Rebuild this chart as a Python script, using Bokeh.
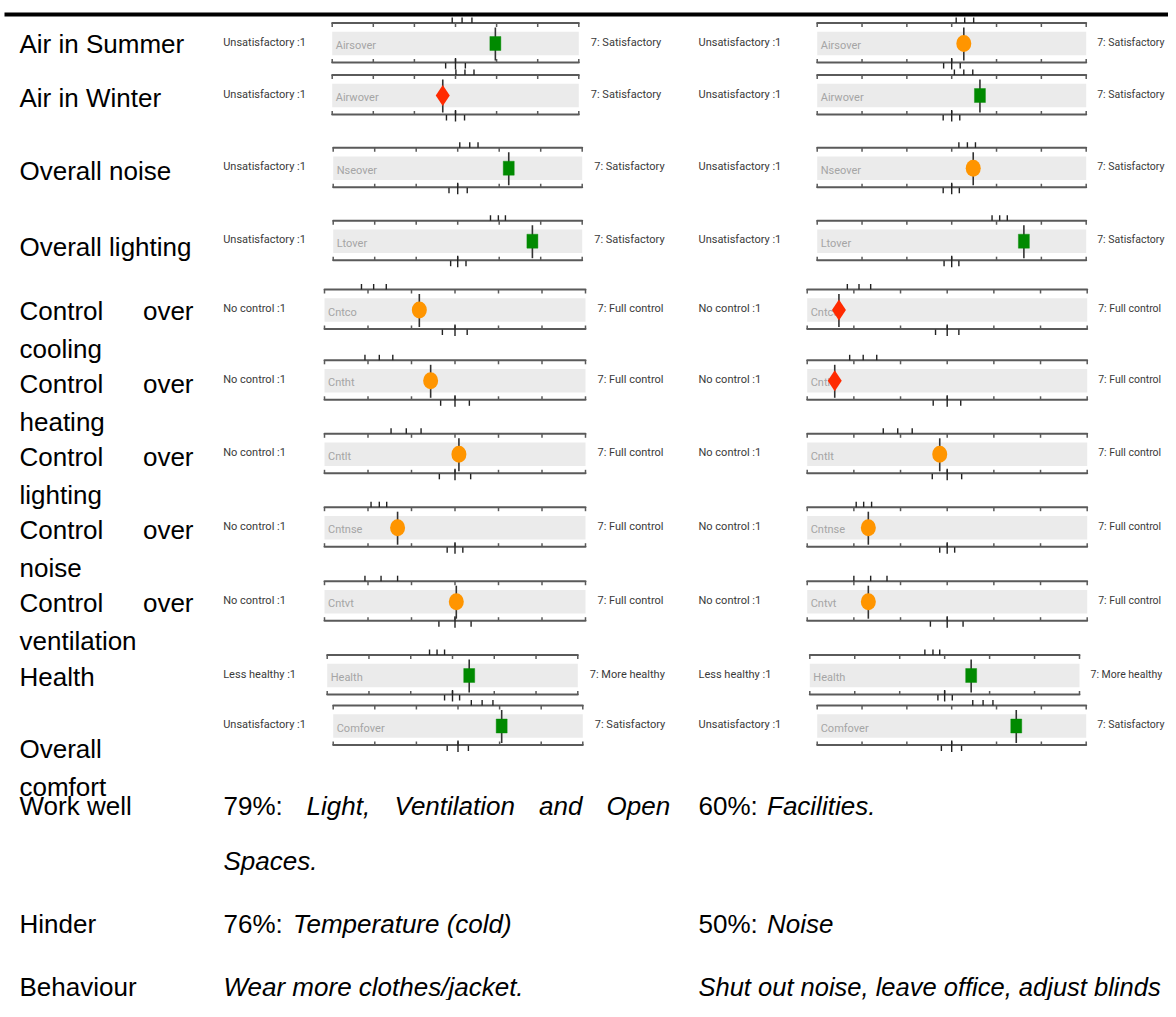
from bokeh.plotting import figure
from bokeh.models import Range1d, BoxAnnotation
from bokeh.embed import file_html
from bokeh.resources import INLINE
from bokeh.core.properties import value

# ---------------- data ----------------
ROW_LABELS = ["Air in Summer", "Air in Winter", "Overall noise", "Overall lighting",
              "Control over cooling", "Control over heating", "Control over lighting",
              "Control over noise", "Control over ventilation", "Health", "Overall comfort"]
SCALE_VARS = ["Airsover", "Airwover", "Nseover", "Ltover", "Cntco", "Cntht", "Cntlt",
              "Cntnse", "Cntvt", "Health", "Comfover"]
LOW_LABELS = ["Unsatisfactory :1"] * 4 + ["No control :1"] * 5 + ["Less healthy :1", "Unsatisfactory :1"]
HIGH_LABELS = ["7: Satisfactory"] * 4 + ["7: Full control"] * 5 + ["7: More healthy", "7: Satisfactory"]
SCALE_TICKS = [1, 2, 3, 4, 5, 6, 7]

# building A (left column)
A_MEAN = [4.97, 3.69, 5.23, 5.80, 3.18, 3.44, 4.09, 2.68, 4.03, 4.40, 5.05]
A_STATUS = ["better", "worse", "better", "better", "same", "same", "same", "same", "same", "better", "better"]
A_BENCH = [[3.92, 4.16, 4.40], [4.01, 4.23, 4.45], [4.05, 4.29, 4.49], [4.79, 4.98, 5.15],
           [1.85, 2.13, 2.42], [1.93, 2.26, 2.57], [2.53, 2.88, 3.22], [2.07, 2.26, 2.43],
           [1.93, 2.30, 2.68], [3.45, 3.63, 3.81], [4.32, 4.58, 4.84]]
A_MID = [[3.76, 4.0, 4.24], [3.78, 4.0, 4.22], [3.79, 4.0, 4.23], [3.83, 4.0, 4.20],
         [3.71, 4.0, 4.28], [3.67, 4.0, 4.33], [3.64, 4.0, 4.36], [3.82, 4.0, 4.18],
         [3.63, 4.0, 4.37], [3.81, 4.0, 4.17], [3.74, 4.0, 4.25]]

# building B (right column)
B_MEAN = [4.27, 4.63, 4.48, 5.61, 1.68, 1.59, 3.84, 2.31, 2.31, 4.59, 5.44]
B_STATUS = ["same", "better", "same", "better", "worse", "worse", "same", "same", "same", "better", "better"]
B_BENCH = [[4.10, 4.29, 4.49], [4.06, 4.27, 4.47], [4.16, 4.35, 4.53], [4.90, 5.07, 5.24],
           [1.86, 2.11, 2.36], [1.91, 2.20, 2.49], [2.63, 2.94, 3.25], [2.05, 2.21, 2.38],
           [2.00, 2.36, 2.71], [3.56, 3.74, 3.89], [4.47, 4.70, 4.92]]
B_MID = [[3.82, 4.0, 4.19], [3.81, 4.0, 4.18], [3.81, 4.0, 4.17], [3.83, 4.0, 4.16],
         [3.75, 4.0, 4.25], [3.70, 4.0, 4.29], [3.68, 4.0, 4.31], [3.84, 4.0, 4.16],
         [3.64, 4.0, 4.34], [3.85, 4.0, 4.17], [3.77, 4.0, 4.22]]

TEXT_ROWS = ["Work well", "Hinder", "Behaviour"]
A_PCT = ["79%:", "76%:", ""]
A_TEXT = ["Light, Ventilation and Open Spaces.", "Temperature (cold)", "Wear more clothes/jacket."]
B_PCT = ["60%:", "50%:", ""]
B_TEXT = ["Facilities.", "Noise", "Shut out noise, leave office, adjust blinds"]

# ---------------- layout / style ----------------
W, H = 1168, 1000
ROW_CY = [43, 95, 167.7, 240.7, 309.5, 380.3, 453.8, 527.2, 601.2, 675, 725.5]
LABEL_BASE = [43, 97, 170, 246, 310, 383, 456, 529, 602, 676, 748]
LINE_GAP = 38
A_X1 = [331.7, 331.7, 332.7, 332.7, 324, 324, 324, 324, 324, 326.7, 332.7]
A_X7 = [578.3, 578.3, 581.7, 581.7, 585, 585, 585, 585, 585, 577.3, 582.3]
B_X1 = [816.7] * 4 + [806.7] * 5 + [809.3, 816.7]
B_X7 = [1085.7] * 4 + [1086.7] * 5 + [1079, 1085.7]
A_LOW_X, B_LOW_X = 222.7, 698
LABEL_X, LABEL_RIGHT = 19, 193

BIG_FONT = "Liberation Sans"
BIG_SIZE = "26px"
SCALE_FONT = "Roboto"
BAR_FILL = "#ebebeb"
AX = "#5a5a5a"
COLORS = {"better": "#008a00", "same": "#ff9500", "worse": "#ff2a00"}

p = figure(width=W, height=H, x_range=Range1d(0, W), y_range=Range1d(H, 0),
           x_axis_type=None, y_axis_type=None, output_backend="svg",
           toolbar_location=None, min_border=0)
p.grid.visible = False
p.outline_line_color = None
p.background_fill_color = "white"

p.add_layout(BoxAnnotation(left=4, right=1171, top=12, bottom=16, fill_color="black",
                           fill_alpha=1, line_color=None))


def big_text(x, y, t, align="left", style="normal", size=BIG_SIZE):
    p.text(x=[x], y=[y], text=[t], text_align=align, text_baseline="alphabetic",
           text_font=value(BIG_FONT), text_font_size=size, text_color="black",
           text_font_style=style)


def draw_scale(x1, x7, cy, mean, status, bench, mid, var, lo, lo_x, hi, hi_gap, hi_size):
    sub = p.subplot(x_source=Range1d(1, 7), y_source=Range1d(0, 1),
                    x_target=Range1d(x1, x7), y_target=Range1d(cy, cy + 1))
    sub.quad(left=[1], right=[7], top=[-11.8], bottom=[11.8], fill_color=BAR_FILL, line_color=None)
    sub.text(x=[1], y=[2], text=[var], x_offset=3.5, text_baseline="middle",
             text_font=value(SCALE_FONT), text_font_size="11px", text_color="#a5a5a5")
    # top and bottom scale axes
    sub.segment(x0=[1, 1], x1=[7, 7], y0=[-20.5, 19], y1=[-20.5, 19],
                line_color=AX, line_width=2, line_cap="round")
    sub.segment(x0=SCALE_TICKS, x1=SCALE_TICKS, y0=[-20.5] * 7, y1=[-16.5] * 7,
                line_color=AX, line_width=1.5)
    sub.segment(x0=SCALE_TICKS, x1=SCALE_TICKS, y0=[19] * 7, y1=[15.5] * 7,
                line_color=AX, line_width=1.5)
    # benchmark (top) and mid-point (bottom) marks
    sub.segment(x0=bench, x1=bench, y0=[-26] * 3, y1=[-20.5] * 3, line_color="#222", line_width=1.4)
    sub.segment(x0=mid, x1=mid, y0=[19.5, 14.5, 19.5], y1=[25, 26, 25], line_color="#222", line_width=1.4)
    # building mean
    sub.segment(x0=[mean], x1=[mean], y0=[-16], y1=[17], line_color="#333", line_width=1.6)
    col = COLORS[status]
    if status == "better":
        sub.rect(x=[mean], y=[0], width=11, height=14, width_units="screen", height_units="screen",
                 fill_color=col, line_color=col, line_alpha=0.4, line_width=1)
    elif status == "same":
        sub.ellipse(x=[mean], y=[0], width=15, height=17, width_units="screen", height_units="screen",
                    fill_color=col, line_color=None)
    else:
        sub.scatter(x=[mean], y=[0], marker="diamond", size=21, fill_color=col, line_color=None)
    sub.text(x=[7], y=[-1.5], text=[hi], x_offset=hi_gap, text_baseline="middle",
             text_font=value(SCALE_FONT), text_font_size=hi_size, text_color="#3a3a3a")
    p.text(x=[lo_x], y=[cy - 1.5], text=[lo], text_baseline="middle",
           text_font=value(SCALE_FONT), text_font_size="11px", text_color="#3a3a3a")


for i, lab in enumerate(ROW_LABELS):
    base = LABEL_BASE[i]
    if lab.startswith("Control over "):
        big_text(LABEL_X, base, "Control")
        big_text(LABEL_RIGHT, base, "over", align="right")
        big_text(LABEL_X, base + LINE_GAP, lab[len("Control over "):])
    elif lab == "Overall comfort":
        big_text(LABEL_X, base, "Overall")
        big_text(LABEL_X, base + LINE_GAP, "comfort")
    else:
        big_text(LABEL_X, base, lab)
    draw_scale(A_X1[i], A_X7[i], ROW_CY[i], A_MEAN[i], A_STATUS[i], A_BENCH[i], A_MID[i],
               SCALE_VARS[i], LOW_LABELS[i], A_LOW_X, HIGH_LABELS[i], 12, "11px")
    draw_scale(B_X1[i], B_X7[i], ROW_CY[i], B_MEAN[i], B_STATUS[i], B_BENCH[i], B_MID[i],
               SCALE_VARS[i], LOW_LABELS[i], B_LOW_X, HIGH_LABELS[i], 11, "10.5px")

# ---------------- text rows ----------------
TEXT_BASE = [805, 923, 986]
A_TXT_X, B_TXT_X = 223, 698
A_ITAL_X = [306, 292.5, 223]
B_ITAL_X = [766.5, 766.5, 698]
WRAP_WORD_X = [306, 394, 538.6, 606]

for i, row in enumerate(TEXT_ROWS):
    big_text(LABEL_X, TEXT_BASE[i], row)
    if A_PCT[i]:
        big_text(A_TXT_X, TEXT_BASE[i], A_PCT[i])
    if B_PCT[i]:
        big_text(B_TXT_X, TEXT_BASE[i], B_PCT[i])
    b_size = "25.5px" if i == 2 else BIG_SIZE
    big_text(B_ITAL_X[i], TEXT_BASE[i], B_TEXT[i], style="italic", size=b_size)
    if i == 0:
        words = A_TEXT[i].split()
        for wx, w in zip(WRAP_WORD_X, words[:4]):
            big_text(wx, TEXT_BASE[i], w, style="italic")
        big_text(A_TXT_X, TEXT_BASE[i] + 55, " ".join(words[4:]), style="italic")
    else:
        big_text(A_ITAL_X[i], TEXT_BASE[i], A_TEXT[i], style="italic")

open("out.html", "w").write(file_html(p, INLINE))
